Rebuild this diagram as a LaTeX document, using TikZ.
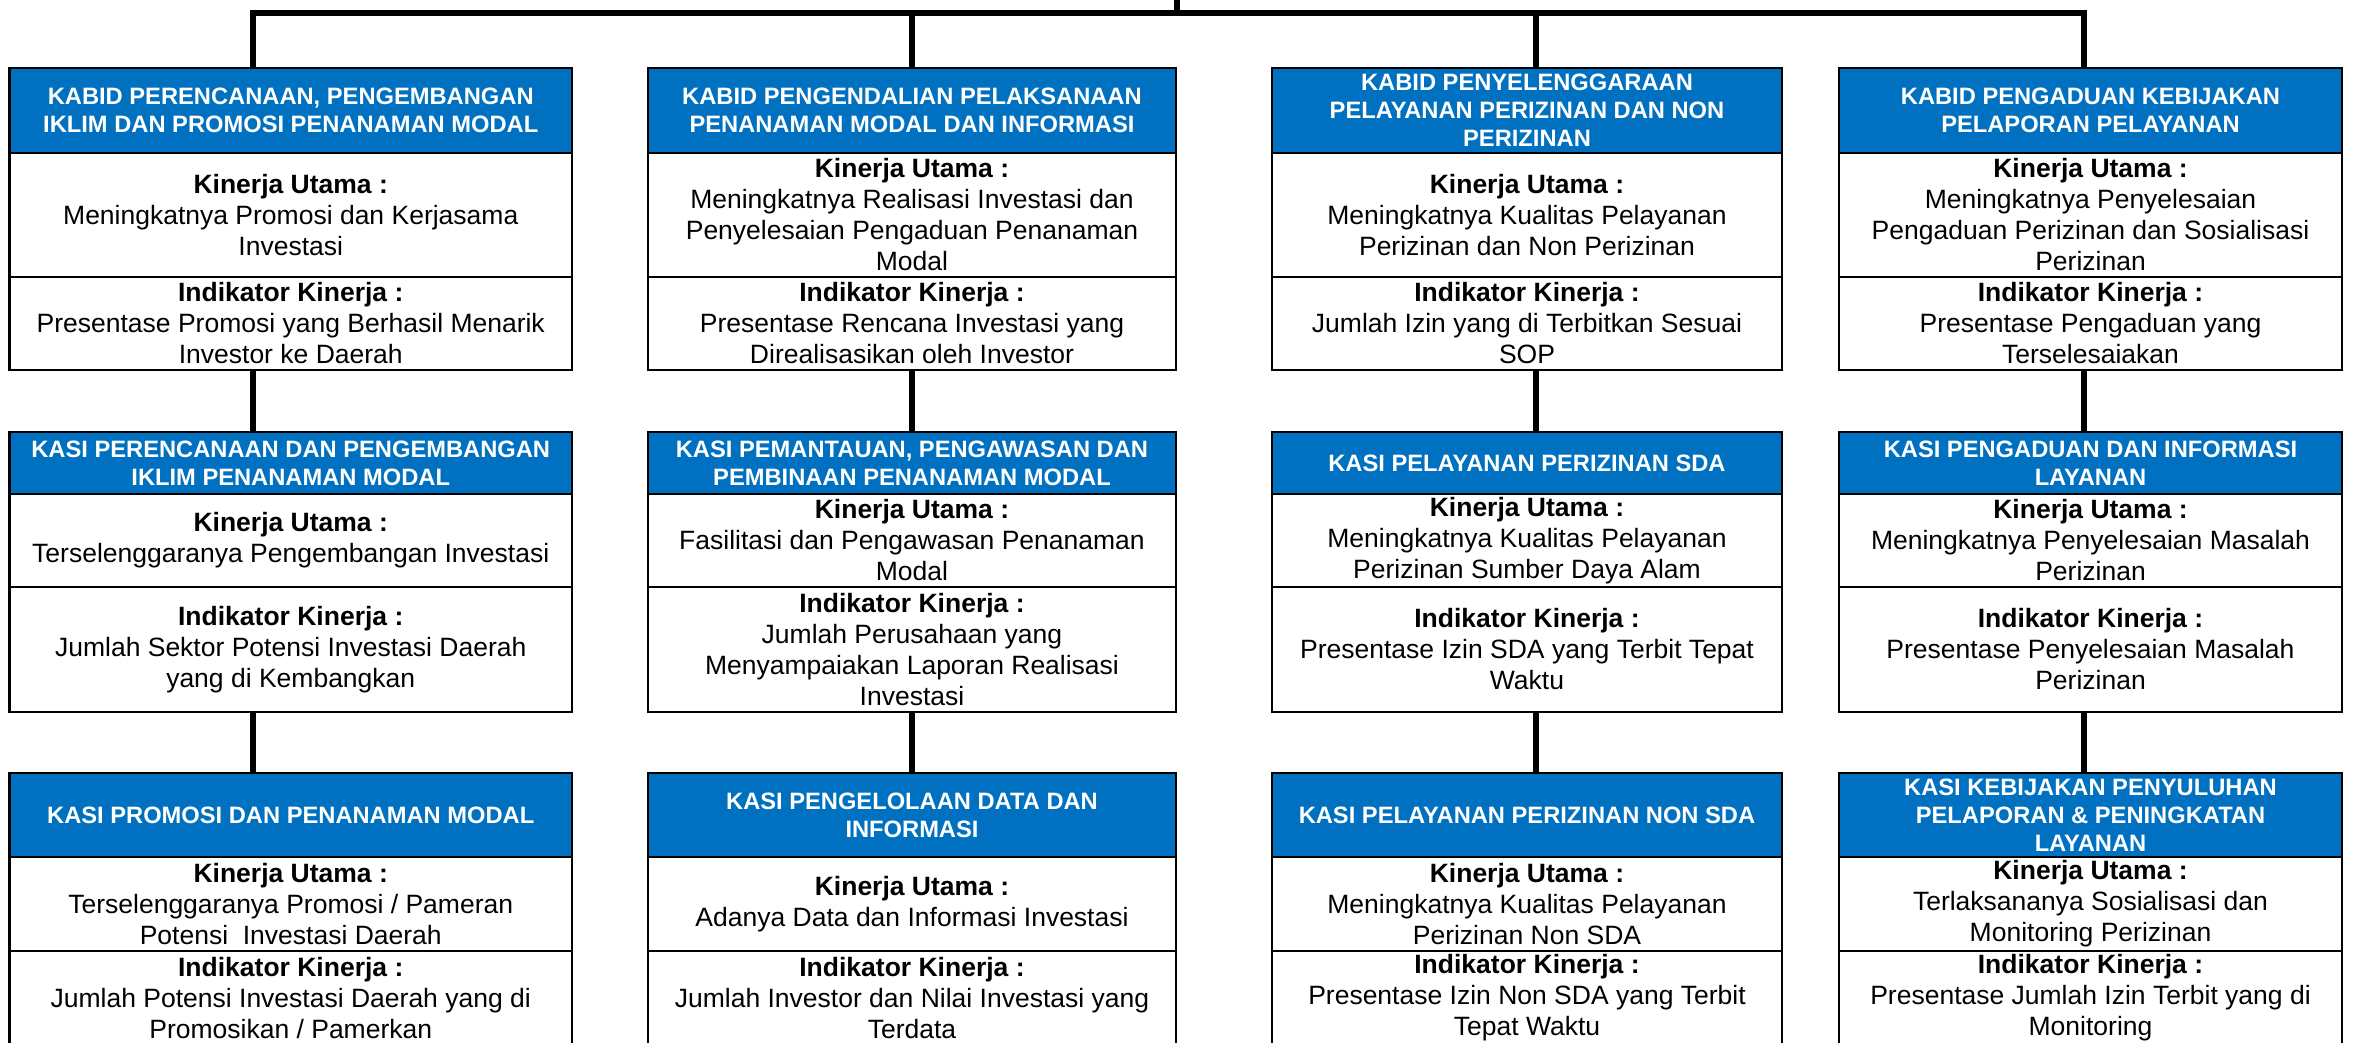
\documentclass[tikz,border=0pt]{standalone}
\usepackage{fontspec}
\setmainfont{Liberation Sans}
\definecolor{hblue}{HTML}{0070C0}
\tikzset{
  hdr/.style={draw=black,line width=2.2pt,fill=hblue,text=white,align=center,inner sep=0pt,outer sep=0pt,
    font=\fontsize{23.7}{28}\selectfont\bfseries},
  cellbox/.style={draw=black,line width=2.2pt,fill=white,text=black,align=center,inner sep=0pt,outer sep=0pt,
    font=\fontsize{26.5}{31}\selectfont},
  conn/.style={draw=black,line width=5.5pt,line join=miter}
}
\newcommand\mkunit[8]{%
  \pgfmathsetmacro\uCx{(\XL+\XR)/2}%
  \pgfmathsetmacro\uW{\XR-\XL}%
  \pgfmathsetmacro\uHa{#3-#2}\pgfmathsetmacro\uYa{(#2+#3)/2}%
  \pgfmathsetmacro\uHb{#4-#3}\pgfmathsetmacro\uYb{(#3+#4)/2}%
  \pgfmathsetmacro\uHc{#5-#4}\pgfmathsetmacro\uYc{(#4+#5)/2}%
  \node[hdr,minimum width=\uW pt,minimum height=\uHa pt] (#1h) at (\uCx,\uYa) {#6};
  \node[cellbox,minimum width=\uW pt,minimum height=\uHb pt] (#1k) at (\uCx,\uYb) {\textbf{Kinerja Utama :}\\#7};
  \node[cellbox,minimum width=\uW pt,minimum height=\uHc pt] (#1i) at (\uCx,\uYc) {\textbf{Indikator Kinerja :}\\#8};
}
\begin{document}
\begin{tikzpicture}[x=1pt,y=-1pt]
\useasboundingbox (0,0) rectangle (2353,1042);
\clip (0,0) rectangle (2353,1042);
\fill[white] (0,0) rectangle (2353,1042);

% column 1
\def\XL{9.5}\def\XR{572}
\mkunit{a1}{68}{153}{277}{370}{KABID PERENCANAAN, PENGEMBANGAN\\IKLIM DAN PROMOSI PENANAMAN MODAL}{Meningkatnya Promosi dan Kerjasama\\Investasi}{Presentase Promosi yang Berhasil Menarik\\Investor ke Daerah}
\mkunit{a2}{432}{494}{587}{712}{KASI PERENCANAAN DAN PENGEMBANGAN\\IKLIM PENANAMAN MODAL}{Terselenggaranya Pengembangan Investasi}{Jumlah Sektor Potensi Investasi Daerah\\yang di Kembangkan}
\mkunit{a3}{773}{857}{951}{1045}{KASI PROMOSI DAN PENANAMAN MODAL}{Terselenggaranya Promosi / Pameran\\Potensi\ \ Investasi Daerah}{Jumlah Potensi Investasi Daerah yang di\\Promosikan / Pamerkan}

% column 2
\def\XL{648}\def\XR{1176}
\mkunit{b1}{68}{153}{277}{370}{KABID PENGENDALIAN PELAKSANAAN\\PENANAMAN MODAL DAN INFORMASI}{Meningkatnya Realisasi Investasi dan\\Penyelesaian Pengaduan Penanaman\\Modal}{Presentase Rencana Investasi yang\\Direalisasikan oleh Investor}
\mkunit{b2}{432}{494}{587}{712}{KASI PEMANTAUAN, PENGAWASAN DAN\\PEMBINAAN PENANAMAN MODAL}{Fasilitasi dan Pengawasan Penanaman\\Modal}{Jumlah Perusahaan yang\\Menyampaiakan Laporan Realisasi\\Investasi}
\mkunit{b3}{773}{857}{951}{1045}{KASI PENGELOLAAN DATA DAN\\INFORMASI}{Adanya Data dan Informasi Investasi}{Jumlah Investor dan Nilai Investasi yang\\Terdata}

% column 3
\def\XL{1272}\def\XR{1782}
\mkunit{c1}{68}{153}{277}{370}{KABID PENYELENGGARAAN\\PELAYANAN PERIZINAN DAN NON\\PERIZINAN}{Meningkatnya Kualitas Pelayanan\\Perizinan dan Non Perizinan}{Jumlah Izin yang di Terbitkan Sesuai\\SOP}
\mkunit{c2}{432}{494}{587}{712}{KASI PELAYANAN PERIZINAN SDA}{Meningkatnya Kualitas Pelayanan\\Perizinan Sumber Daya Alam}{Presentase Izin SDA yang Terbit Tepat\\Waktu}
\mkunit{c3}{773}{857}{951}{1045}{KASI PELAYANAN PERIZINAN NON SDA}{Meningkatnya Kualitas Pelayanan\\Perizinan Non SDA}{Presentase Izin Non SDA yang Terbit\\Tepat Waktu}

% column 4
\def\XL{1839}\def\XR{2342}
\mkunit{d1}{68}{153}{277}{370}{KABID PENGADUAN KEBIJAKAN\\PELAPORAN PELAYANAN}{Meningkatnya Penyelesaian\\Pengaduan Perizinan dan Sosialisasi\\Perizinan}{Presentase Pengaduan yang\\Terselesaiakan}
\mkunit{d2}{432}{494}{587}{712}{KASI PENGADUAN DAN INFORMASI\\LAYANAN}{Meningkatnya Penyelesaian Masalah\\Perizinan}{Presentase Penyelesaian Masalah\\Perizinan}
\mkunit{d3}{773}{857}{951}{1045}{KASI KEBIJAKAN PENYULUHAN\\PELAPORAN \& PENINGKATAN\\LAYANAN}{Terlaksananya Sosialisasi dan\\Monitoring Perizinan}{Presentase Jumlah Izin Terbit yang di\\Monitoring}

% connectors
\coordinate (root) at (1177,0);
\coordinate (bus) at (1177,13);
\coordinate (v1) at (253,13);
\coordinate (v2) at (912,13);
\coordinate (v3) at (1536,13);
\coordinate (v4) at (2084,13);
\draw[conn] (root) -- (bus);
\draw[conn] (v1 |- a1h.north) -- (v1) -- (v4) -- (v4 |- d1h.north);
\draw[conn] (v2) -- (v2 |- b1h.north);
\draw[conn] (v3) -- (v3 |- c1h.north);
\draw[conn] (v1 |- a1i.south) -- (v1 |- a2h.north);
\draw[conn] (v1 |- a2i.south) -- (v1 |- a3h.north);
\draw[conn] (v2 |- b1i.south) -- (v2 |- b2h.north);
\draw[conn] (v2 |- b2i.south) -- (v2 |- b3h.north);
\draw[conn] (v3 |- c1i.south) -- (v3 |- c2h.north);
\draw[conn] (v3 |- c2i.south) -- (v3 |- c3h.north);
\draw[conn] (v4 |- d1i.south) -- (v4 |- d2h.north);
\draw[conn] (v4 |- d2i.south) -- (v4 |- d3h.north);
\end{tikzpicture}
\end{document}
